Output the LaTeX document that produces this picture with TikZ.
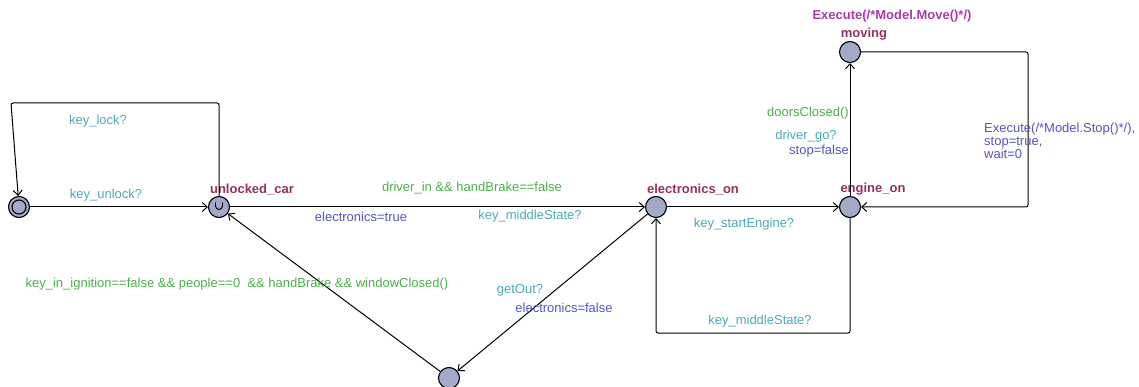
\documentclass[tikz,border=0pt]{standalone}
\usepackage{fontspec}
\setmainfont{Liberation Sans}
\usetikzlibrary{arrows.meta}
\definecolor{locname}{RGB}{145,50,95}
\definecolor{invcol}{RGB}{170,60,170}
\definecolor{guardcol}{RGB}{75,175,75}
\definecolor{synccol}{RGB}{75,170,180}
\definecolor{assigncol}{RGB}{85,85,190}
\definecolor{locfill}{RGB}{163,170,201}
\tikzset{
  state/.style={circle,draw=black,fill=locfill,line width=1.1pt,minimum size=21pt,inner sep=0pt},
  trans/.style={draw=black,line width=1pt,rounded corners=2pt,-{Straight Barb[length=5pt,width=9pt]}},
  lbl/.style={font=\fontsize{13}{13}\selectfont,inner sep=0pt,yshift=-1.5pt},
  lname/.style={lbl,text=locname,font=\fontsize{13}{13}\selectfont\bfseries},
  inv/.style={lbl,text=invcol,font=\fontsize{13}{13}\selectfont\bfseries},
  guard/.style={lbl,text=guardcol},
  sync/.style={lbl,text=synccol},
  assign/.style={lbl,text=assigncol}
}
\begin{document}
\begin{tikzpicture}[x=1pt,y=-1pt]
\useasboundingbox (0,0) rectangle (1139,387);
% locations
\node[state] (init) at (19,207) {};
\draw[line width=1.1pt] (init.center) circle[radius=7];
\node[state] (unl) at (219,207) {};
\draw[line width=0.9pt] (215.5,202.5) -- (215.5,206) arc[start angle=180,end angle=0,radius=3.5] -- (222.5,202.5);
\node[state] (elon) at (656,207) {};
\node[state] (eng) at (850,207) {};
\node[state] (mov) at (850,52) {};
\node[state] (out) at (449,378) {};
% location names and invariant
\node[lname] at (252,188) {unlocked\_car};
\node[lname] at (693,188) {electronics\_on};
\node[lname] at (873,188) {engine\_on};
\node[lname] at (864,33) {moving};
\node[inv] at (892,15) {Execute(/*Model.Move()*/)};
% bend points
\coordinate (lk1) at (219,103);
\coordinate (lk2) at (11,103);
\coordinate (ms1) at (850,333);
\coordinate (ms2) at (656,333);
\coordinate (st1) at (1028,52);
\coordinate (st2) at (1028,207);
% transitions
\draw[trans] (init) -- (unl);
\node[sync] at (106,194) {key\_unlock?};
\draw[trans] (unl.north) -- (lk1) -- (lk2) -- (init);
\node[sync] at (98,120) {key\_lock?};
\draw[trans] (unl) -- (elon);
\node[guard] at (472,187) {driver\_in \&\& handBrake==false};
\node[assign] at (361,215) {electronics=true};
\node[sync] at (530,215) {key\_middleState?};
\draw[trans] (elon) -- (out);
\node[sync] at (520,289) {getOut?};
\node[assign] at (564,306) {electronics=false};
\draw[trans] (out) -- (unl);
\node[guard] at (237,283) {key\_in\_ignition==false \&\& people==0 \ \&\& handBrake \&\& windowClosed()};
\draw[trans] (elon) -- (eng);
\node[sync] at (744,223) {key\_startEngine?};
\draw[trans] (eng.south) -- (ms1) -- (ms2) -- (elon);
\node[sync] at (760,320) {key\_middleState?};
\draw[trans] (eng) -- (mov);
\node[guard,anchor=east] at (849,112) {doorsClosed()};
\node[sync] at (806,135) {driver\_go?};
\node[assign,anchor=east] at (849,150) {stop=false};
\draw[trans] (mov.east) -- (st1) -- (st2) -- (eng);
\node[assign,anchor=north west,align=left,font=\fontsize{13}{13}\selectfont] at (984,121) {Execute(/*Model.Stop()*/),\\stop=true,\\wait=0};
\end{tikzpicture}
\end{document}
